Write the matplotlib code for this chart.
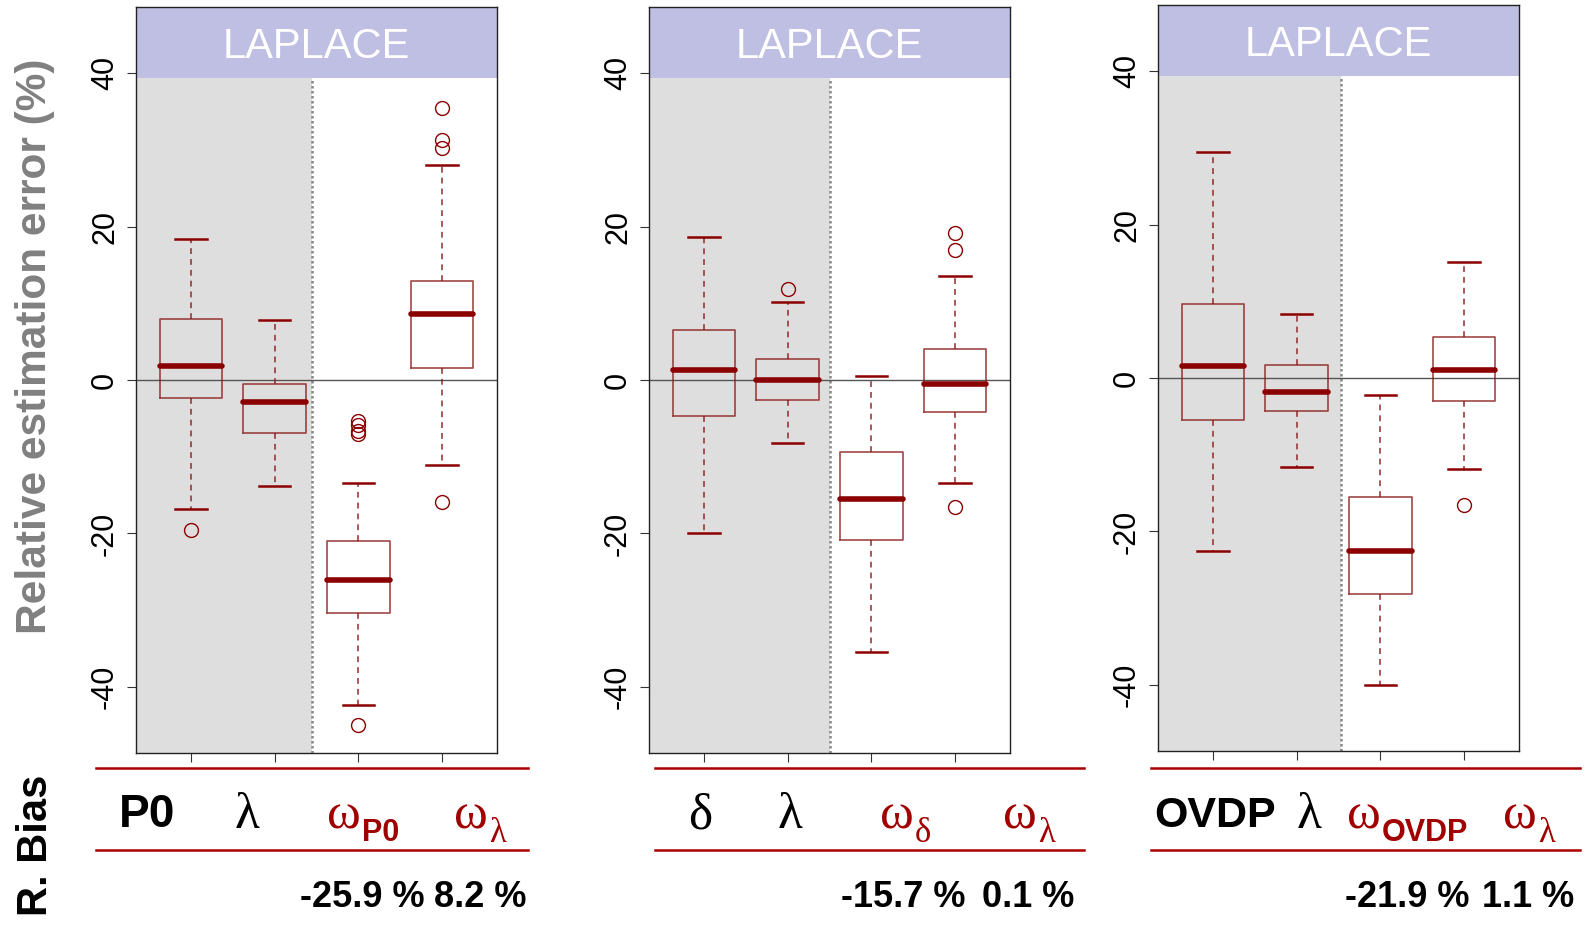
import matplotlib
matplotlib.use("Agg")
import matplotlib.pyplot as plt
from matplotlib.lines import Line2D

plt.rcParams['font.family'] = ['Liberation Sans', 'DejaVu Sans']

# box statistics, one list per panel (P0 / delta / OVDP models)
positions = [1, 2, 3, 4]
upper_whisker = [[18.4, 7.8, -13.4, 28.0],
                 [18.6, 10.2, 0.56, 13.56],
                 [29.4, 8.3, -2.2, 15.1]]
upper_quart = [[7.95, -0.5, -21.0, 12.9],
               [6.5, 2.7, -9.4, 4.1],
               [9.7, 1.65, -15.5, 5.3]]
medians = [[1.8, -2.9, -26.1, 8.6],
           [1.3, 0.0, -15.5, -0.5],
           [1.5, -1.8, -22.5, 1.0]]
lower_quart = [[-2.4, -6.9, -30.3, 1.6],
               [-4.65, -2.65, -20.9, -4.2],
               [-5.5, -4.35, -28.1, -3.05]]
lower_whisker = [[-16.8, -13.8, -42.3, -11.1],
                 [-19.9, -8.25, -35.4, -13.4],
                 [-22.6, -11.6, -40.0, -11.9]]
outliers = [[[-19.5], [], [-5.3, -5.8, -6.6, -7.0, -45.0], [35.5, 31.3, 30.2, -15.9]],
            [[], [11.9], [], [19.1, 16.95, -16.6]],
            [[], [], [], [-16.5]]]

strip_label = 'LAPLACE'
yticks = [-40, -20, 0, 20, 40]
ytick_labels = ['-40', '-20', '0', '20', '40']

# table under the panels
param_names = [['P0', 'λ'], ['δ', 'λ'], ['OVDP', 'λ']]
weight_subs = [['P0', 'λ'], ['δ', 'λ'], ['OVDP', 'λ']]
bias_text = [['-25.9 %', '8.2 %'], ['-15.7 %', '0.1 %'], ['-21.9 %', '1.1 %']]

W, H = 1586, 930
fig = plt.figure(figsize=(W / 100, H / 100), dpi=100)


def fx(px):
    return px / W


def fy(py):
    return 1 - py / H


dred = '#8b0000'
red = '#a00000'
panel_left = [136, 649, 1158]
panel_top = [7, 7, 5]
panel_w, panel_h = 361, 746
sep = [2.45, 2.5, 2.53]
ylo, yhi = -48.6, 48.6
strip_y = 39.3

for i in range(3):
    ax = fig.add_axes([fx(panel_left[i]), fy(panel_top[i] + panel_h),
                       panel_w / W, panel_h / H])
    ax.set_xlim(0.34, 4.66)
    ax.set_ylim(ylo, yhi)
    frac = (strip_y - ylo) / (yhi - ylo)
    ax.axvspan(0.34, sep[i], ymin=0, ymax=frac, color='#dedede', lw=0, zorder=0)
    ax.axhspan(strip_y, yhi, color='#bfbfe3', lw=0, zorder=0.5)
    ax.axvline(sep[i], ymax=frac, color='#888888', ls=(0, (1, 1)), lw=1.8, zorder=1)
    ax.axhline(0, color='#555555', lw=1, zorder=1)
    ax.text(2.5, 41.9, strip_label, color='white', fontsize=30,
            ha='center', va='baseline')

    stats = []
    for j in range(4):
        stats.append(dict(med=medians[i][j], q1=lower_quart[i][j],
                          q3=upper_quart[i][j], whislo=lower_whisker[i][j],
                          whishi=upper_whisker[i][j], fliers=outliers[i][j]))
    ax.bxp(stats, positions=positions, widths=0.75, capwidths=0.375,
           manage_ticks=False,
           boxprops=dict(color='#8b1a1a', lw=1.2, alpha=0.8),
           whiskerprops=dict(color='#8b1a1a', lw=1.2, ls=(0, (3.5, 3)), alpha=0.85),
           capprops=dict(color=dred, lw=1.8),
           medianprops=dict(color=dred, lw=4, solid_capstyle='round'),
           flierprops=dict(marker='o', mfc='none', mec=dred, ms=10, mew=1))

    ax.set_xticks(positions)
    ax.set_xticklabels([])
    ax.set_yticks(yticks)
    ax.set_yticklabels(ytick_labels, rotation=90, va='center')
    ax.tick_params(length=6.5, width=0.8, color='#333333', labelsize=22, pad=5)
    for s in ax.spines.values():
        s.set_linewidth(1)
        s.set_color('#222222')

fig.text(0.0218, fy(346), 'Relative estimation error (%)', rotation=90,
         ha='center', va='center', color='#808080', weight='bold', fontsize=30.5)
fig.text(0.0225, fy(845), 'R. Bias', rotation=90, ha='center', va='center',
         weight='bold', fontsize=30)

# table rules
rule_x = [(96, 528), (655, 1084), (1151, 1580)]
for x0, x1 in rule_x:
    for yy in (767.7, 850):
        fig.add_artist(Line2D([fx(x0), fx(x1)], [fy(yy), fy(yy)],
                              color='#aa0000', lw=1.8))

renderer = fig.canvas.get_renderer()
name_x = [(147, 247), (700, 790), (1215, 1309)]
name_size = [33, 31, 31]
omega_left = [(327, 454), (880, 1003), (1347, 1503)]
bias_x = [(362, 480), (903, 1028), (1407, 1528)]

for i in range(3):
    for k in range(2):
        name = param_names[i][k]
        if name.isascii():
            fig.text(fx(name_x[i][k]), fy(827), name, ha='center', va='baseline',
                     weight='bold', fontsize=name_size[i])
        else:
            fig.text(fx(name_x[i][k]), fy(828), name, ha='center', va='baseline',
                     family='Liberation Serif', fontsize=37)
        t = fig.text(fx(omega_left[i][k]), fy(828), 'ω', ha='left', va='baseline',
                     family='Liberation Serif', fontsize=37, color=red)
        bb = t.get_window_extent(renderer)
        sub = weight_subs[i][k]
        if sub.isascii():
            fig.text((bb.x1 + 1) / W, fy(841), sub, ha='left', va='baseline',
                     weight='bold', fontsize=22, color=red)
        else:
            fig.text((bb.x1 + 1) / W, fy(842), sub, ha='left', va='baseline',
                     family='Liberation Serif', fontsize=25, color=red)
        fig.text(fx(bias_x[i][k]), fy(907), bias_text[i][k], ha='center',
                 va='baseline', weight='bold', fontsize=26)

fig.savefig('out.png', dpi=100)
